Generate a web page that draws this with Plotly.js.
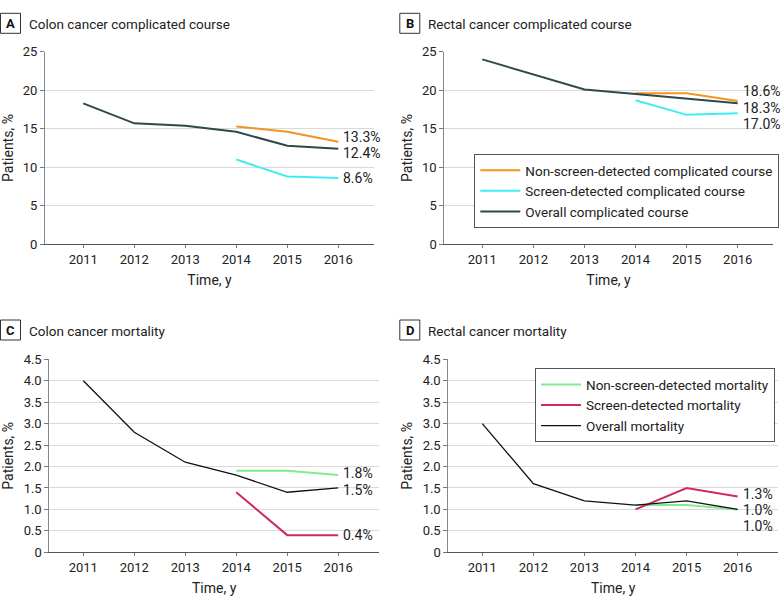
<!DOCTYPE html>
<html><head><meta charset="utf-8">
<script src="https://cdn.plot.ly/plotly-3.0.1.min.js"></script>
<style>html,body{margin:0;padding:0;background:#fff}#chart{width:783px;height:608px}</style>
</head><body><div id="chart"></div>
<script>
const years = [2011, 2012, 2013, 2014, 2015, 2016];
const yearsLate = [2014, 2015, 2016];

// Panel A: colon cancer complicated course (%)
const colonCompOverall = [18.3, 15.7, 15.4, 14.6, 12.8, 12.4];
const colonCompNonScreen = [15.3, 14.6, 13.3];
const colonCompScreen = [11.0, 8.8, 8.6];
// Panel B: rectal cancer complicated course (%)
const rectalCompOverall = [24.0, 22.1, 20.1, 19.5, 18.9, 18.3];
const rectalCompNonScreen = [19.6, 19.6, 18.6];
const rectalCompScreen = [18.7, 16.8, 17.0];
// Panel C: colon cancer mortality (%)
const colonMortOverall = [4.0, 2.8, 2.1, 1.8, 1.4, 1.5];
const colonMortNonScreen = [1.9, 1.9, 1.8];
const colonMortScreen = [1.4, 0.4, 0.4];
// Panel D: rectal cancer mortality (%)
const rectalMortOverall = [3.0, 1.6, 1.2, 1.1, 1.2, 1.0];
const rectalMortNonScreen = [1.1, 1.1, 1.0];
const rectalMortScreen = [1.0, 1.5, 1.3];

const panelTitles = ['Colon cancer complicated course', 'Rectal cancer complicated course', 'Colon cancer mortality', 'Rectal cancer mortality'];
const panelLetters = ['A', 'B', 'C', 'D'];
const compTickVals = [0, 5, 10, 15, 20, 25];
const mortTickVals = [0, 0.5, 1, 1.5, 2, 2.5, 3, 3.5, 4, 4.5];
const mortTickText = ['0', '0.5', '1.0', '1.5', '2.0', '2.5', '3.0', '3.5', '4.0', '4.5'];

const FONT = 'Roboto, "Open Sans", sans-serif';
const W = 783, H = 608;
const px = x => x / W;
const py = y => 1 - y / H;

const C_ORANGE = '#F39422', C_CYAN = '#40ECF2', C_SLATE = '#2D4A49';
const C_GREEN = '#80EC92', C_RED = '#CF2B5C', C_BLACK = '#111111';

const traces = [];
function add(x, y, ax, color, width, name, legend, show) {
  traces.push({type: 'scatter', mode: 'lines', x: x, y: y, xaxis: 'x' + ax, yaxis: 'y' + ax,
    line: {color: color, width: width}, name: name, legend: legend, showlegend: show, hoverinfo: 'skip'});
}
// A
add(years, colonCompOverall, '', C_SLATE, 2, 'Overall complicated course', 'legend', false);
add(yearsLate, colonCompNonScreen, '', C_ORANGE, 2, 'Non-screen-detected complicated course', 'legend', false);
add(yearsLate, colonCompScreen, '', C_CYAN, 2, 'Screen-detected complicated course', 'legend', false);
// B
add(yearsLate, rectalCompNonScreen, '2', C_ORANGE, 2, 'Non-screen-detected complicated course', 'legend', true);
add(yearsLate, rectalCompScreen, '2', C_CYAN, 2, 'Screen-detected complicated course', 'legend', true);
add(years, rectalCompOverall, '2', C_SLATE, 2, 'Overall complicated course', 'legend', true);
// C
add(years, colonMortOverall, '3', C_BLACK, 1.3, 'Overall mortality', 'legend2', false);
add(yearsLate, colonMortNonScreen, '3', C_GREEN, 2, 'Non-screen-detected mortality', 'legend2', false);
add(yearsLate, colonMortScreen, '3', C_RED, 2, 'Screen-detected mortality', 'legend2', false);
// D
add(yearsLate, rectalMortNonScreen, '4', C_GREEN, 2, 'Non-screen-detected mortality', 'legend2', true);
add(yearsLate, rectalMortScreen, '4', C_RED, 2, 'Screen-detected mortality', 'legend2', true);
add(years, rectalMortOverall, '4', C_BLACK, 1.3, 'Overall mortality', 'legend2', true);

function xax(dom, range, anchor) {
  return {domain: dom, range: range, anchor: anchor, tickvals: years, ticktext: years.map(String),
    showgrid: false, zeroline: false, showline: true, linecolor: '#555', linewidth: 1,
    ticks: 'outside', ticklen: 3, tickcolor: '#777', tickfont: {family: FONT, size: 13, color: '#222'},
    title: {text: 'Time, y', font: {family: FONT, size: 14, color: '#222'}, standoff: 9}, fixedrange: true};
}
function yax(dom, range, anchor, tv, tt) {
  return {domain: dom, range: range, anchor: anchor, tickvals: tv, ticktext: tt,
    showgrid: true, gridcolor: '#dadada', gridwidth: 1, zeroline: false, showline: true,
    linecolor: '#888', linewidth: 1, ticks: 'outside', ticklen: 4, tickcolor: '#777',
    tickfont: {family: FONT, size: 13, color: '#222'},
    title: {text: 'Patients, %', font: {family: FONT, size: 14, color: '#222'}, standoff: 6}, fixedrange: true};
}

const layout = {
  width: W, height: H, margin: {l: 0, r: 0, t: 0, b: 0}, paper_bgcolor: '#fff', plot_bgcolor: '#fff',
  font: {family: FONT, color: '#222'},
  xaxis: xax([px(45), px(374)], [2010.25, 2016.7], 'y'),
  yaxis: yax([py(244.3), py(51.7)], [0, 25], 'x', compTickVals, compTickVals.map(String)),
  xaxis2: xax([px(444.3), px(772.7)], [2010.256, 2016.685], 'y2'),
  yaxis2: yax([py(244.3), py(51.7)], [0, 25], 'x2', compTickVals, compTickVals.map(String)),
  xaxis3: xax([px(49.3), px(379)], [2010.333, 2016.8], 'y3'),
  yaxis3: yax([py(552.3), py(359.3)], [0, 4.5], 'x3', mortTickVals, mortTickText),
  xaxis4: xax([px(448.3), px(778)], [2010.334, 2016.79], 'y4'),
  yaxis4: yax([py(552.3), py(359.3)], [0, 4.5], 'x4', mortTickVals, mortTickText),
  legend: {x: px(474.3), y: py(154), xanchor: 'left', yanchor: 'top', bordercolor: '#555', borderwidth: 1,
    bgcolor: '#fff', font: {family: FONT, size: 13.5, color: '#222'}, tracegroupgap: 0, itemwidth: 40},
  legend2: {x: px(535), y: py(368.3), xanchor: 'left', yanchor: 'top', bordercolor: '#555', borderwidth: 1,
    bgcolor: '#fff', font: {family: FONT, size: 13.5, color: '#222'}, tracegroupgap: 0, itemwidth: 40},
  annotations: [], shapes: []
};

// Panel headers
const headerPos = [[0, 13.3], [399.3, 13.3], [0, 320], [399.3, 320]];
headerPos.forEach((p, i) => {
  layout.shapes.push({type: 'rect', xref: 'paper', yref: 'paper', x0: px(p[0] + 0.5), x1: px(p[0] + 20.5),
    y0: py(p[1] + 20), y1: py(p[1]), line: {color: '#333', width: 1}, fillcolor: 'rgba(0,0,0,0)'});
  layout.annotations.push({xref: 'paper', yref: 'paper', x: px(p[0] + 10.5), y: py(p[1] + 10), xanchor: 'center',
    yanchor: 'middle', text: '<b>' + panelLetters[i] + '</b>', showarrow: false, font: {family: FONT, size: 13, color: '#111'}});
  layout.annotations.push({xref: 'paper', yref: 'paper', x: px(p[0] + 27), y: py(p[1] + 10.5), xanchor: 'left',
    yanchor: 'middle', text: panelTitles[i], showarrow: false, font: {family: FONT, size: 13.5, color: '#222'}});
});

// End-of-line value labels
function endLabel(ax, series, shift) {
  const v = series[series.length - 1];
  layout.annotations.push({xref: 'x' + ax, yref: 'y' + ax, x: 2016, y: v, xanchor: 'left', yanchor: 'middle',
    xshift: 3, yshift: shift, text: v.toFixed(1) + '%', showarrow: false, font: {family: FONT, size: 14, color: '#222'}});
}
endLabel('', colonCompNonScreen, 5);
endLabel('', colonCompOverall, -4);
endLabel('', colonCompScreen, 0);
endLabel('2', rectalCompNonScreen, 10);
endLabel('2', rectalCompOverall, -5);
endLabel('2', rectalCompScreen, -11);
endLabel('3', colonMortNonScreen, 2);
endLabel('3', colonMortOverall, -2);
endLabel('3', colonMortScreen, 0);
endLabel('4', rectalMortScreen, 3);
endLabel('4', rectalMortNonScreen, -1);
endLabel('4', rectalMortOverall, -17);

Plotly.newPlot('chart', traces, layout, {displayModeBar: false, staticPlot: true});
</script></body></html>
